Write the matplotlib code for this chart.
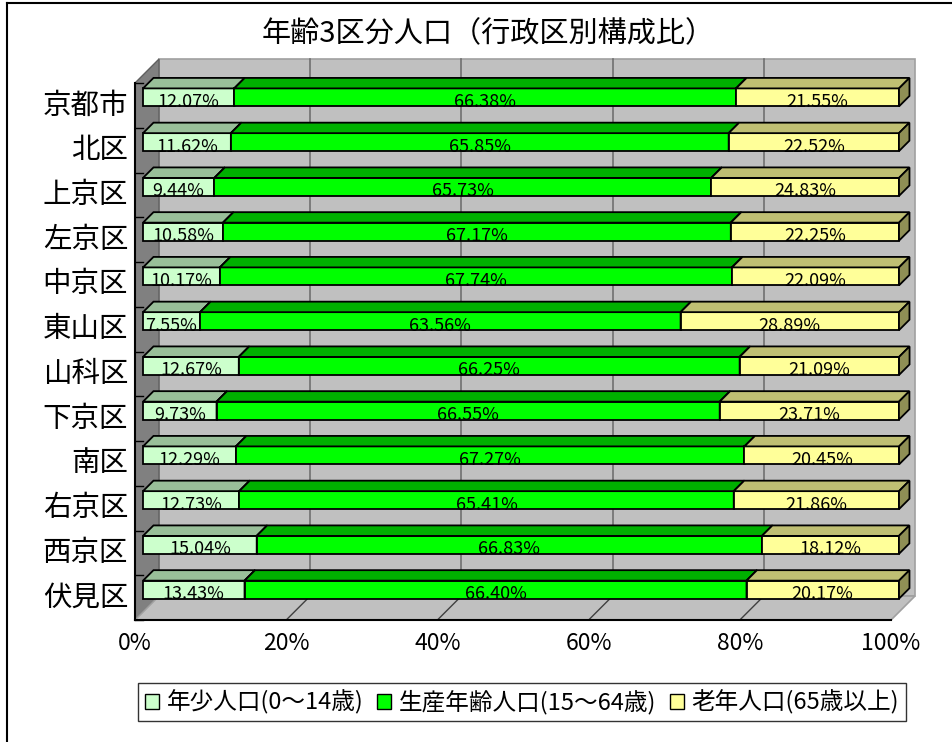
import matplotlib
matplotlib.use("Agg")
import matplotlib.pyplot as plt
from matplotlib.patches import Polygon, Patch
from matplotlib.lines import Line2D

plt.rcParams['font.family'] = ['Noto Sans CJK JP', 'DejaVu Sans']

# データ(行政区別 年齢3区分人口 構成比 %)
wards = ["京都市", "北区", "上京区", "左京区", "中京区", "東山区",
         "山科区", "下京区", "南区", "右京区", "西京区", "伏見区"]
young = [12.07, 11.62, 9.44, 10.58, 10.17, 7.55, 12.67, 9.73, 12.29, 12.73, 15.04, 13.43]
working = [66.38, 65.85, 65.73, 67.17, 67.74, 63.56, 66.25, 66.55, 67.27, 65.41, 66.83, 66.40]
old = [21.55, 22.52, 24.83, 22.25, 22.09, 28.89, 21.09, 23.71, 20.45, 21.86, 18.12, 20.17]
series_names = ["年少人口(0～14歳)", "生産年齢人口(15～64歳)", "老年人口(65歳以上)"]
xticks = [0, 20, 40, 60, 80, 100]

# 色 (前面, 上面, 側面)
front_cols = ["#CCFFCC", "#00FF00", "#FFFF99"]
top_cols = ["#99BF99", "#00B000", "#BFBF73"]
side_cols = ["#7F9F7F", "#008000", "#8F8F55"]

W, H = 953, 742
fig = plt.figure(figsize=(W / 100, H / 100), dpi=100)
ax = fig.add_axes([0, 0, 1, 1])

# 画素 -> データ座標の換算 (0% の位置, 1% の幅, カテゴリ間隔)
PX0, PXW = 135, 7.56
PY0, PYH = 105.4, 44.75
ax.set_xlim(-PX0 / PXW, (W - PX0) / PXW)
ax.set_ylim((H - PY0) / PYH, -PY0 / PYH)
ax.axis("off")

n = len(wards)
DX, DY = 24 / PXW, -24 / PYH        # 奥行きベクトル
ytop, ybot = -0.5, n - 0.5

# 奥の壁
ax.add_patch(Polygon([(DX, ytop + DY), (100 + DX, ytop + DY), (100 + DX, ybot + DY), (DX, ybot + DY)],
                     closed=True, fc="#C0C0C0", ec="#A0A0A0", lw=1.2, zorder=1))
for t in xticks[1:-1]:
    ax.plot([t + DX, t + DX], [ytop + DY, ybot + DY], color="#707070", lw=1.2, zorder=2)
# 左の壁
ax.add_patch(Polygon([(0, ytop), (DX, ytop + DY), (DX, ybot + DY), (0, ybot)],
                     closed=True, fc="#808080", ec="#606060", lw=1, zorder=2))
# 床
ax.add_patch(Polygon([(0, ybot), (100, ybot), (100 + DX, ybot + DY), (DX, ybot + DY)],
                     closed=True, fc="#C0C0C0", ec="#A0A0A0", lw=1.2, zorder=2))
for t in xticks[1:-1]:
    ax.plot([t, t + DX], [ybot, ybot + DY], color="#404040", lw=1, zorder=3)
ax.plot([0, 0], [ytop, ybot], color="black", lw=1.5, zorder=3)
ax.plot([0, 100], [ybot, ybot], color="black", lw=1.5, zorder=3)
for k in range(n + 1):
    ax.plot([0, 1.0], [k - 0.5, k - 0.5], color="black", lw=1, zorder=3)

# 3D 棒
z0, z1 = 1 / 3, 0.77
bh = 18 / PYH
ox, oy = DX * z0, DY * z0
ddx, ddy = DX * (z1 - z0), DY * (z1 - z0)
for i in range(n):
    vals = [young[i], working[i], old[i]]
    left = 0.0
    yc = i + oy
    yt, yb = yc - bh / 2, yc + bh / 2
    for j, v in enumerate(vals):
        xl, xr = left + ox, left + v + ox
        ax.add_patch(Polygon([(xl, yt), (xr, yt), (xr, yb), (xl, yb)], closed=True,
                             fc=front_cols[j], ec="black", lw=1.3, zorder=5))
        ax.add_patch(Polygon([(xl, yt), (xr, yt), (xr + ddx, yt + ddy), (xl + ddx, yt + ddy)], closed=True,
                             fc=top_cols[j], ec="black", lw=1.3, zorder=5))
        ax.add_patch(Polygon([(xr, yt), (xr + ddx, yt + ddy), (xr + ddx, yb + ddy), (xr, yb)], closed=True,
                             fc=side_cols[j], ec="black", lw=1.3, zorder=5))
        ax.text((xl + xr) / 2, yc + 0.1, f"{v:.2f}%", ha="center", va="center",
                fontsize=13, color="black", zorder=6)
        left += v
    ax.text(-0.9, i, wards[i], ha="right", va="center", fontsize=20.5, color="black")

for t in xticks:
    ax.text(t, (644 - PY0) / PYH, f"{t}%", ha="center", va="center", fontsize=16.5)

fig.text(488 / W, 1 - 34 / H, "年齢3区分人口（行政区別構成比）", ha="center", va="center", fontsize=21)

# 外枠(左と上のみ見える)
fig.add_artist(Line2D([7 / W, 7 / W], [0, 1 - 3 / H], color="black", lw=1.5, transform=fig.transFigure))
fig.add_artist(Line2D([7 / W, 1], [1 - 3 / H, 1 - 3 / H], color="black", lw=1.5, transform=fig.transFigure))

handles = [Patch(fc=front_cols[j], ec="black", lw=1) for j in range(3)]
leg = fig.legend(handles, series_names, ncol=3, loc="center", bbox_to_anchor=(522 / W, 1 - 702 / H),
                 fontsize=17, frameon=True, fancybox=False, edgecolor="black", handlelength=0.6,
                 handleheight=0.6, handletextpad=0.3, columnspacing=0.6, borderpad=0.3)
leg.get_frame().set_linewidth(1)

fig.savefig("out.png", dpi=100)
